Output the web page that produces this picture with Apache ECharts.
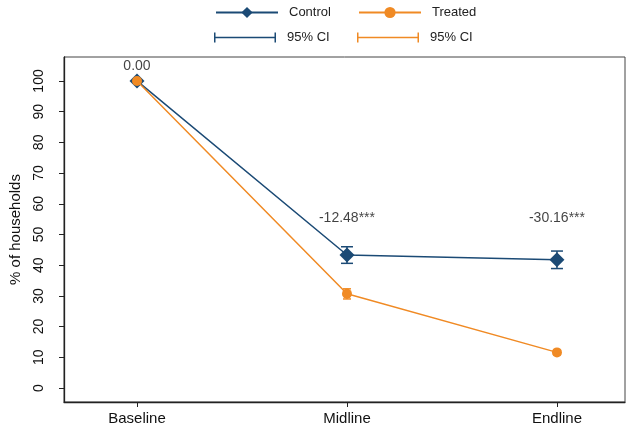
<!DOCTYPE html>
<html><head><meta charset="utf-8">
<script src="https://cdn.jsdelivr.net/npm/echarts@6/dist/echarts.min.js"></script>
<style>html,body{margin:0;padding:0;background:#fff}#c{width:630px;height:438px}</style>
</head><body><div id="c"></div>
<script>
const categories = ['Baseline', 'Midline', 'Endline'];
const controlMean = [100, 43.3, 41.8];
const controlLow = [100, 40.6, 38.9];
const controlHigh = [100, 46.0, 44.6];
const treatedMean = [100, 30.7, 11.6];
const treatedLow = [100, 29.0, 10.8];
const treatedHigh = [100, 32.3, 12.4];
const diffLabels = ['0.00', '-12.48***', '-30.16***'];
const diffLabelY = [104.9, 55.4, 55.4];
const yTicks = [0, 10, 20, 30, 40, 50, 60, 70, 80, 90, 100];

const NAVY = '#1b4a75';
const ORANGE = '#f08a24';
const FONT = 'Liberation Sans, Arial, sans-serif';

const pts = arr => arr.map((v, i) => [i, v]);
const ci = (lo, hi) => lo.map((v, i) => [i, v, hi[i]]);

function errBar(capHalf) {
  return function (params, api) {
    const x = api.value(0);
    const p1 = api.coord([x, api.value(1)]);
    const p2 = api.coord([x, api.value(2)]);
    if (Math.abs(p1[1] - p2[1]) < 1) return null;
    const st = { stroke: api.visual('color'), lineWidth: 1.5 };
    return {
      type: 'group', children: [
        { type: 'line', shape: { x1: p1[0], y1: p1[1], x2: p2[0], y2: p2[1] }, style: st },
        { type: 'line', shape: { x1: p1[0] - capHalf, y1: p1[1], x2: p1[0] + capHalf, y2: p1[1] }, style: st },
        { type: 'line', shape: { x1: p2[0] - capHalf, y1: p2[1], x2: p2[0] + capHalf, y2: p2[1] }, style: st }
      ]
    };
  };
}

const ciIcon = 'path://M0,0h1.5v10h-1.5zM0,4.3h62v1.4h-62zM60.5,0h1.5v10h-1.5z';
const legBase = { padding: 0, itemWidth: 62, itemHeight: 12, textStyle: { fontFamily: FONT, fontSize: 13, color: '#222', padding: [0, 0, 0, 6] }, selectedMode: false };

const chart = echarts.init(document.getElementById('c'));
chart.setOption({
  animation: false,
  backgroundColor: '#fff',
  legend: [
    Object.assign({}, legBase, { left: 215, top: 6, data: ['Control'], itemHeight: 14 }),
    Object.assign({}, legBase, { left: 358, top: 6, data: ['Treated'], itemHeight: 14 }),
    Object.assign({}, legBase, { left: 214, top: 31, data: ['Control 95% CI'], icon: ciIcon, itemHeight: 10, formatter: () => '95% CI' }),
    Object.assign({}, legBase, { left: 357, top: 31, data: ['Treated 95% CI'], icon: ciIcon, itemHeight: 10, formatter: () => '95% CI' })
  ],
  grid: { left: 64, right: 5, top: 57, bottom: 36, show: true, borderColor: '#444', borderWidth: 1, outerBoundsMode: 'none', containLabel: false },
  xAxis: {
    type: 'value', min: -0.3476, max: 2.324,
    axisLine: { show: true, onZero: false, lineStyle: { color: '#222', width: 1.3 } },
    axisTick: { show: true, customValues: [0, 1, 2], length: 5, lineStyle: { color: '#222' } },
    axisLabel: { customValues: [0, 1, 2], formatter: v => categories[Math.round(v)], fontFamily: FONT, fontSize: 15, color: '#111', margin: 9 },
    splitLine: { show: false }
  },
  yAxis: {
    type: 'value', min: -4.56, max: 107.8,
    name: '% of households', nameLocation: 'middle', nameRotate: 90, nameGap: 41,
    nameTextStyle: { fontFamily: FONT, fontSize: 15, color: '#111' },
    axisLine: { show: true, onZero: false, lineStyle: { color: '#222', width: 1.3 } },
    axisTick: { show: true, customValues: yTicks, length: 5, lineStyle: { color: '#222' } },
    axisLabel: { customValues: yTicks, rotate: 90, fontFamily: FONT, fontSize: 14, color: '#111', margin: 18 },
    splitLine: { show: false }
  },
  series: [
    {
      name: 'Control', type: 'line', data: pts(controlMean), symbol: 'diamond', symbolSize: 15,
      itemStyle: { color: NAVY }, lineStyle: { color: NAVY, width: 1.5 }, z: 3
    },
    {
      name: 'Treated', type: 'line', data: pts(treatedMean), symbol: 'circle', symbolSize: 10,
      itemStyle: { color: ORANGE }, lineStyle: { color: ORANGE, width: 1.5 }, z: 4
    },
    {
      name: 'Control 95% CI', type: 'custom', data: ci(controlLow, controlHigh), renderItem: errBar(6),
      itemStyle: { color: NAVY }, encode: { x: 0, y: [1, 2] }, z: 2
    },
    {
      name: 'Treated 95% CI', type: 'custom', data: ci(treatedLow, treatedHigh), renderItem: errBar(4),
      itemStyle: { color: ORANGE }, encode: { x: 0, y: [1, 2] }, z: 2
    },
    {
      name: 'diff', type: 'scatter', symbolSize: 0, silent: true,
      data: diffLabels.map((t, i) => ({ value: [i, diffLabelY[i]], label: { formatter: t } })),
      label: { show: true, position: 'inside', fontFamily: FONT, fontSize: 14, color: '#111' }
    }
  ]
});
</script></body></html>
